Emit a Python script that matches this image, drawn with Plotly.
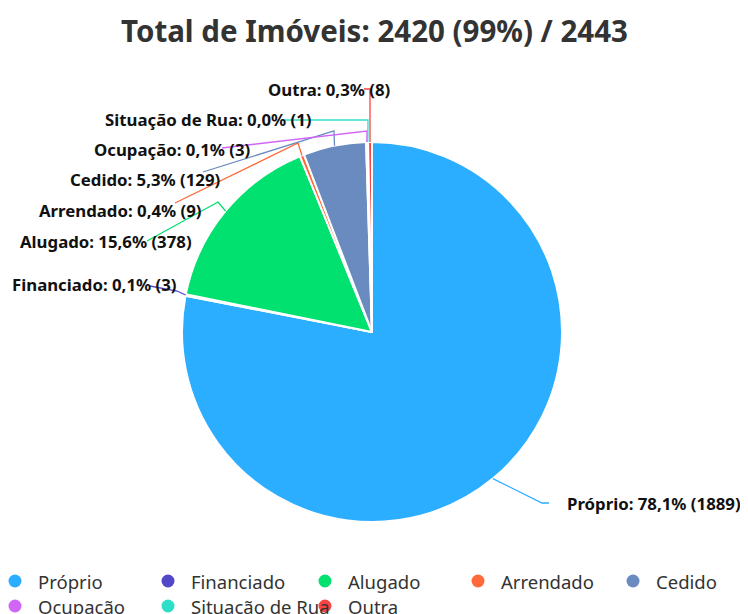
import math
import plotly.graph_objects as go

# ---------------- data ----------------
categories = ["Próprio", "Financiado", "Alugado", "Arrendado", "Cedido",
              "Ocupação", "Situação de Rua", "Outra"]
values = [1889, 3, 378, 9, 129, 3, 1, 8]
colors = ["#2BAEFF", "#5047C9", "#00E170", "#FF6A3B", "#6A8BC0",
          "#D066F5", "#2EDFC8", "#F94444"]
total_registered = 2443
title_text = "Total de Imóveis: 2420 (99%) / 2443"

# ---------------- layout constants (pixels, in window coordinates) ----------------
W, H = 748, 614
OFF = 8  # page body margin offset
CX, CY, R = 372, 332, 190
FONT = "Noto Sans"
LABEL_SIZE = 16.8

def px(x):
    return (x - OFF) / W

def py(y):
    return 1 - (y - OFF) / H

total = sum(values)

def fmt_pct(v):
    return f"{100 * v / total:.1f}".replace(".", ",") + "%"

# label placement: (side, text anchor x, text y, elbow point, line end point)
label_layout = {
    "Próprio":         ("left",  565, 503, (542, 503), (549, 503)),
    "Financiado":      ("right", 179, 284, (177, 291), (150, 286)),
    "Alugado":         ("right", 194, 242, (218, 202), (147, 241)),
    "Arrendado":       ("right", 204, 211, (298, 143), (175, 203)),
    "Cedido":          ("right", 223, 179, (334, 131), (203, 172)),
    "Ocupação":        ("right", 253, 149, (367, 131), (222, 148)),
    "Situação de Rua": ("right", 314, 120, (368, 120), (283, 120)),
    "Outra":           ("right", 393, 89,  (370, 89),  (364, 89)),
}

fig = go.Figure()
fig.add_trace(go.Pie(
    labels=categories,
    values=values,
    marker=dict(colors=colors, line=dict(color="white", width=2)),
    sort=False,
    direction="clockwise",
    rotation=0,
    textinfo="none",
    showlegend=False,
    domain=dict(x=[px(CX - R), px(CX + R)], y=[py(CY + R), py(CY - R)]),
))

shapes = []
annotations = []

cum = 0
for cat, v, col in zip(categories, values, colors):
    mid = (cum + v / 2) / total * 2 * math.pi
    cum += v
    ex = CX + R * math.sin(mid)
    ey = CY - R * math.cos(mid)
    side, tx, ty, (bx, by), (lx, ly) = label_layout[cat]
    path = (f"M {px(ex)},{py(ey)} L {px(bx)},{py(by)} L {px(lx)},{py(ly)}")
    shapes.append(dict(type="path", xref="paper", yref="paper", path=path,
                       line=dict(color=col, width=1.3), layer="above"))
    annotations.append(dict(
        x=px(tx), y=py(ty), xref="paper", yref="paper",
        xanchor="left" if side == "left" else "right", yanchor="middle",
        text=f"<b>{cat}: {fmt_pct(v)} ({v})</b>", showarrow=False,
        font=dict(family=FONT, size=LABEL_SIZE, color="#111111"),
    ))

# ---------------- custom legend (circle markers) ----------------
legend_cols = [15, 168, 325, 478, 633]
legend_rows = [581, 606]
for i, (cat, col) in enumerate(zip(categories, colors)):
    row, c = divmod(i, 5)
    mx, my = legend_cols[c], legend_rows[row]
    shapes.append(dict(type="circle", xref="paper", yref="paper",
                       xsizemode="pixel", ysizemode="pixel",
                       xanchor=px(mx), yanchor=py(my),
                       x0=-6.5, x1=6.5, y0=-6.5, y1=6.5,
                       fillcolor=col, line=dict(width=0), layer="above"))
    annotations.append(dict(
        x=px(mx + 21), y=py(my), xref="paper", yref="paper",
        xanchor="left", yanchor="middle", text=cat, showarrow=False,
        font=dict(family=FONT, size=18.5, color="#333333"),
    ))

annotations.append(dict(
    x=px(374), y=py(30), xref="paper", yref="paper",
    xanchor="center", yanchor="middle", text=f"<b>{title_text}</b>",
    showarrow=False, font=dict(family=FONT, size=29.5, color="#333333"),
))

fig.update_layout(
    width=W, height=H, autosize=False,
    margin=dict(l=0, r=0, t=0, b=0),
    paper_bgcolor="white", plot_bgcolor="white",
    shapes=shapes, annotations=annotations,
)

fig.write_html("out.html")
